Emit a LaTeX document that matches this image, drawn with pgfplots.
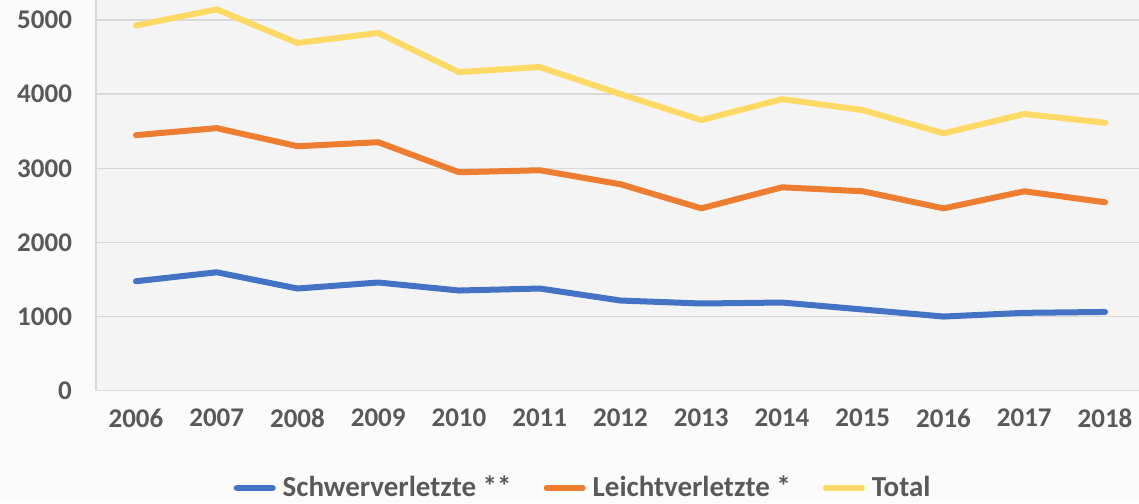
\documentclass[border=0pt]{standalone}
\usepackage{pgfplots}
\pgfplotsset{compat=1.18}
\usepackage{fontspec}
\setmainfont{Carlito}
\definecolor{txt}{HTML}{595959}
\definecolor{bgout}{HTML}{FBFBFB}
\definecolor{bgin}{HTML}{F4F4F4}
\definecolor{gridc}{HTML}{D9D9D9}
\definecolor{cblue}{HTML}{4472C4}
\definecolor{corange}{HTML}{ED7D31}
\definecolor{cyellow}{HTML}{FFD966}
\begin{document}
\begin{tikzpicture}
\useasboundingbox[fill=bgout] (0,0) rectangle (569.5pt,251.5pt);
\begin{axis}[
  at={(48pt,56.15pt)}, anchor=south west,
  scale only axis, width=521.5pt, height=195.35pt,
  xmin=2005.505, xmax=2018.42, ymin=0, ymax=5269,
  axis background/.style={fill=bgin},
  axis lines*=left,
  axis line style={draw=gridc, line width=0.6pt, -},
  xtick={2006,2007,...,2018},
  ytick={0,1000,...,5000},
  major tick length=0pt,
  ymajorgrids, grid style={draw=gridc, line width=0.6pt},
  /pgf/number format/1000 sep={},
  /pgf/number format/assume math mode=true,
  tick label style={font=\bfseries\fontsize{13.5}{13.5}\selectfont, text=txt},
  yticklabel style={xshift=-8.5pt},
  xticklabel style={yshift=-5.5pt},
  legend columns=3,
  legend style={at={(axis description cs:0.468,-0.249)}, anchor=center, draw=none, fill=none,
    font=\bfseries\fontsize{14.5}{14.5}\selectfont, text=txt,
    /tikz/every odd column/.append style={column sep=1.5pt},
    /tikz/every even column/.append style={column sep=14pt}},
  legend image code/.code={\draw[#1, line cap=round] (0pt,0pt) -- (18pt,0pt);},
  every axis plot/.append style={line width=3pt, line cap=round, line join=round, mark=none},
]
\addplot[cblue] coordinates {
(2006,1476) (2007,1597) (2008,1378) (2009,1459) (2010,1351) (2011,1378) (2012,1216)
(2013,1176) (2014,1189) (2015,1095) (2016,1000) (2017,1050) (2018,1062)};
\addlegendentry{Schwerverletzte **}
\addplot[corange] coordinates {
(2006,3446) (2007,3541) (2008,3297) (2009,3351) (2010,2946) (2011,2973) (2012,2784)
(2013,2459) (2014,2743) (2015,2689) (2016,2459) (2017,2689) (2018,2541)};
\addlegendentry{Leichtverletzte *}
\addplot[cyellow] coordinates {
(2006,4925) (2007,5143) (2008,4689) (2009,4824) (2010,4297) (2011,4365) (2012,4000)
(2013,3649) (2014,3932) (2015,3784) (2016,3471) (2017,3732) (2018,3614)};
\addlegendentry{Total}
\end{axis}
\end{tikzpicture}
\end{document}
